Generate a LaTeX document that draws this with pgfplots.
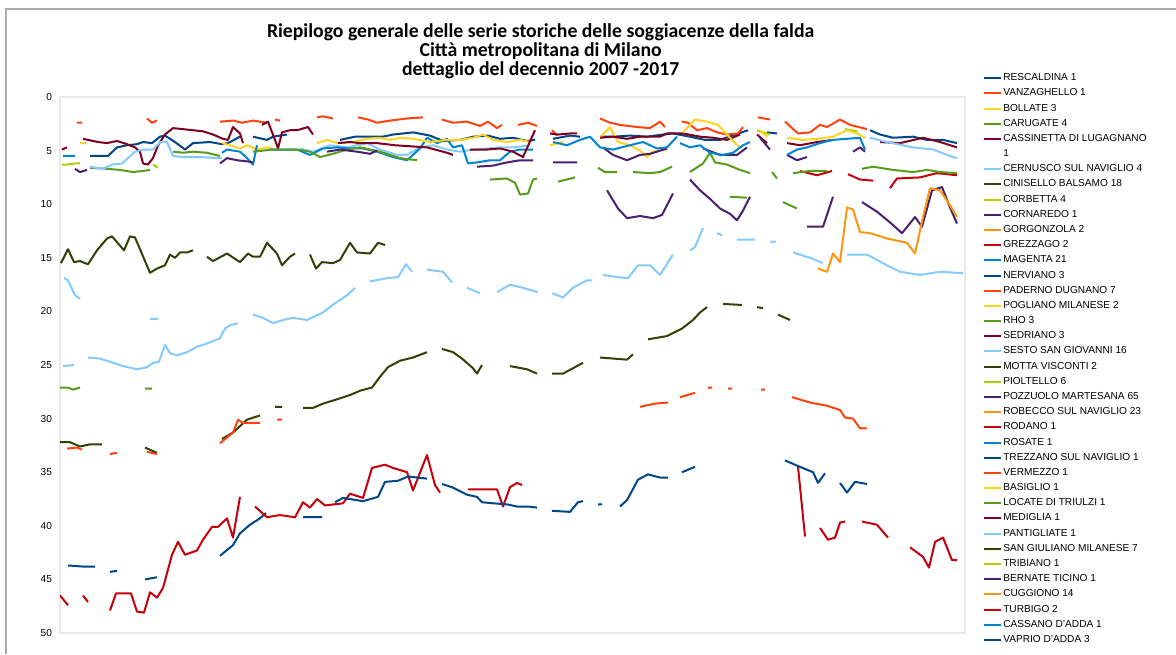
\documentclass[border=0pt]{standalone}
\usepackage{fontspec}
\setmainfont{Liberation Sans}
\newfontfamily\titlefont{Carlito}
\usepackage{pgfplots}
\pgfplotsset{compat=1.18}
\definecolor{cDB}{HTML}{004586}
\definecolor{cOR}{HTML}{FF420E}
\definecolor{cYE}{HTML}{FFD320}
\definecolor{cGR}{HTML}{579D1C}
\definecolor{cMA}{HTML}{7E0021}
\definecolor{cLB}{HTML}{83CAFF}
\definecolor{cOL}{HTML}{314004}
\definecolor{cYG}{HTML}{AECF00}
\definecolor{cIN}{HTML}{4B1F6F}
\definecolor{cOG}{HTML}{FF950E}
\definecolor{cRE}{HTML}{C5000B}
\definecolor{cMB}{HTML}{0084D1}
\begin{document}
\begin{tikzpicture}
\useasboundingbox (0,0) rectangle (882pt,-490.5pt);
\draw[gray!65, line width=1.1pt] (4.5pt,-490.5pt) -- (4.5pt,-6.75pt) -- (882pt,-6.75pt);
\node[align=center, font=\titlefont\bfseries\fontsize{14.8}{14.1}\selectfont] at (405.5pt,-38.3pt)
 {Riepilogo generale delle serie storiche delle soggiacenze della falda\\Città metropolitana di Milano\\dettaglio del decennio 2007 -2017};
\begin{axis}[
  at={(45pt,-72.75pt)}, anchor=north west,
  scale only axis, width=678.75pt, height=402pt,
  xmin=60, xmax=965, ymin=0, ymax=50, y dir=reverse,
  ytick={0,5,...,50}, xtick=\empty,
  axis line style={draw=gray!18, line width=0.8pt},
  major tick length=0pt,
  yticklabel style={font=\fontsize{7.6}{9}\selectfont, xshift=-2.5pt},
  /pgf/number format/assume math mode=true,
  unbounded coords=jump,
  every axis plot/.append style={line width=1.5pt, line join=round, mark=none},
  legend image code/.code={\draw[#1] (0pt,0pt) -- (13pt,0pt);},
  legend cell align=left,
  legend style={at={(1.02,1.045)}, anchor=north west, draw=none, fill=none,
    font=\fontsize{7.6}{9}\selectfont, inner sep=0pt, outer sep=0pt,
    row sep=3.38pt, nodes={inner sep=0.6pt}},
]
% 1 RESCALDINA
\addplot[cDB] coordinates {(90,5.5)(108,5.5)(117,4.7)(127,4.5)(137,4.4)(143,4.2)(152,4.3)(160,3.7)(165,3.6)(175,4.2)(185,4.9)(193,4.3)(210,4.2)(222,4.4)(228,4.3)(240,3.7)(nan,nan)(253,3.7)(267,4.0)(273,3.7)(287,3.5)(nan,nan)(870,3.1)(880,3.5)(893,3.8)(913,3.7)(927,4.0)(943,4.0)(957,4.3)};
\addlegendentry{RESCALDINA 1}
% 2 VANZAGHELLO
\addplot[cOR] coordinates {(77,2.4)(82,2.4)(nan,nan)(147,2.0)(152,2.4)(157,2.2)(nan,nan)(220,2.3)(233,2.2)(242,2.4)(253,2.2)(267,2.4)(nan,nan)(275,2.1)(280,2.2)(nan,nan)(317,1.9)(323,1.8)(333,2.0)(nan,nan)(358,1.9)(368,2.1)(377,2.4)(390,2.2)(407,2.0)(423,1.9)(nan,nan)(442,2.1)(453,2.4)(467,2.3)(480,2.7)(488,2.3)(497,2.9)(502,2.6)(nan,nan)(518,2.6)(528,2.4)(537,2.7)};
\addlegendentry{VANZAGHELLO 1}
% 3 BOLLATE
\addplot[cYE] coordinates {(80,4.3)(86,4.3)(nan,nan)(222,4.3)(230,4.5)(240,4.8)(247,4.5)(257,4.9)(267,4.7)(273,4.8)};
\addlegendentry{BOLLATE 3}
% 4 CARUGATE
\addplot[cGR] coordinates {(90,6.6)(107,6.7)(120,6.8)(133,7.0)(143,6.9)(150,6.8)(nan,nan)(730,9.3)(747,9.4)(nan,nan)(772,7.0)(777,7.6)(nan,nan)(783,9.8)(797,10.4)};
\addlegendentry{CARUGATE 4}
% 5 CASSINETTA
\addplot[cMA] coordinates {(62,4.9)(67,4.7)(nan,nan)(83,3.9)(98,4.2)(107,4.3)(117,4.1)(127,4.4)(135,4.7)(140,5.1)(143,6.2)(148,6.3)(153,5.7)(158,4.5)(165,3.5)(173,2.9)(183,3.0)(193,3.1)(203,3.2)(213,3.5)(223,3.9)(228,4.0)(233,2.8)(240,3.4)(243,4.3)(nan,nan)(262,2.6)(268,2.3)(275,4.0)(278,4.8)(282,3.3)(290,3.1)(297,3.1)(308,2.8)(313,3.5)};
\addlegendentry{CASSINETTA DI LUGAGNANO}
\addlegendimage{empty legend}
\addlegendentry{1}
% 6 CERNUSCO
\addplot[cLB] coordinates {(90,6.5)(103,6.7)(112,6.3)(122,6.2)(128,5.7)(135,5.1)(143,4.9)(153,4.9)(160,4.2)(167,4.2)(173,5.5)(183,5.6)(200,5.6)(217,5.7)(222,5.7)(nan,nan)(300,4.8)(313,5.1)(330,4.5)(347,4.7)(367,4.3)(380,4.9)(397,5.4)(407,5.4)(420,4.7)(433,4.5)(447,4.9)(460,5.1)(473,4.9)(487,4.8)(500,4.7)(513,4.7)(530,4.5)};
\addlegendentry{CERNUSCO SUL NAVIGLIO 4}
% 7 CINISELLO
\addplot[cOL] coordinates {(61,15.5)(68,14.2)(74,15.4)(80,15.3)(88,15.6)(97,14.3)(107,13.2)(112,13.0)(124,14.3)(130,13.0)(135,13.1)(150,16.4)(157,16.0)(165,15.7)(170,14.7)(175,15.0)(180,14.5)(187,14.5)(193,14.3)(nan,nan)(207,14.9)(213,15.3)(227,14.6)(240,15.4)(248,14.6)(253,14.9)(260,14.9)(267,13.6)(277,14.6)(282,15.7)(290,14.9)(295,14.6)(nan,nan)(310,14.7)(316,16.0)(322,15.4)(333,15.5)(340,15.2)(350,13.6)(357,14.5)(370,14.6)(378,13.6)(385,13.8)};
\addlegendentry{CINISELLO BALSAMO 18}
% 8 CORBETTA
\addplot[cYG] coordinates {(62,6.3)(67,6.3)(75,6.2)(80,6.2)};
\addlegendentry{CORBETTA 4}
% 9 CORNAREDO
\addplot[cIN] coordinates {(607,8.7)(618,10.4)(627,11.3)(640,11.1)(653,11.3)(662,11.0)(673,9.0)(nan,nan)(690,7.7)(700,8.7)(710,9.5)(720,10.4)(730,10.9)(737,11.5)(743,10.6)(750,9.3)};
\addlegendentry{CORNAREDO 1}
% 10 GORGONZOLA
\addlegendimage{cOG}
\addlegendentry{GORGONZOLA 2}
% 11 GREZZAGO
\addplot[cRE] coordinates {(800,6.9)(817,7.3)(832,6.9)(nan,nan)(848,7.2)(860,7.7)(873,7.8)(nan,nan)(890,8.5)(897,7.6)(920,7.5)(937,7.1)(957,7.3)};
\addlegendentry{GREZZAGO 2}
% 12 MAGENTA
\addplot[cMB] coordinates {(63,5.5)(75,5.5)(nan,nan)(222,5.2)(227,4.9)(240,5.1)(247,5.7)(253,6.3)(257,4.5)(nan,nan)(270,4.9)(278,4.9)(297,4.9)(310,5.4)(323,4.8)(337,4.7)(350,4.8)(363,4.8)(377,5.1)(393,5.6)(407,5.9)(420,4.8)(427,3.8)(437,4.3)(447,3.9)(453,4.7)(462,4.5)(468,6.2)(477,6.1)(490,5.9)(500,5.9)(510,5.1)(520,4.9)(533,4.9)};
\addlegendentry{MAGENTA 21}
% 13 NERVIANO
\addplot[cDB] coordinates {(340,4.0)(355,3.7)(370,3.7)(383,3.7)(393,3.5)(413,3.3)(430,3.6)(443,4.1)(460,4.0)(473,3.7)(488,3.6)(500,3.9)(513,3.8)(527,4.1)(535,4.0)(nan,nan)(553,3.9)(570,3.6)(580,3.7)(nan,nan)(600,3.7)(613,3.7)(630,3.6)(647,3.7)(663,3.5)(673,3.4)(690,3.7)(705,4.0)(720,4.0)(735,3.5)(748,3.1)(nan,nan)(767,3.3)(777,3.4)};
\addlegendentry{NERVIANO 3}
% 14 PADERNO
\addplot[cOR] coordinates {(552,3.1)(557,3.6)(nan,nan)(600,2.0)(610,2.4)(620,2.6)(637,2.8)(650,2.9)(660,2.3)(665,2.8)(nan,nan)(682,2.3)(688,2.4)(697,3.1)(707,2.9)(717,3.3)(727,3.5)(738,3.4)(743,2.8)(nan,nan)(758,1.9)(770,2.1)(nan,nan)(785,2.3)(798,3.4)(810,3.3)(820,2.6)(827,2.8)(840,2.1)(850,2.6)(863,2.9)(867,3.0)};
\addlegendentry{PADERNO DUGNANO 7}
% 15 POGLIANO
\addplot[cYE] coordinates {(317,4.3)(327,4.0)(337,4.3)(353,4.2)(367,3.9)(380,3.8)(390,4.0)(400,3.8)(413,3.9)(430,4.2)(447,4.0)(460,4.0)(473,3.8)(483,3.5)(493,4.0)(507,4.2)(520,4.0)(530,4.2)(nan,nan)(550,4.5)(563,4.2)(nan,nan)(600,3.8)(610,2.8)(618,4.2)(630,4.5)(640,5.0)(647,5.6)(653,5.1)(667,4.9)};
\addlegendentry{POGLIANO MILANESE 2}
% 16 RHO
\addplot[cGR] coordinates {(173,5.1)(183,5.2)(193,5.1)(207,5.2)(220,5.5)(nan,nan)(253,5.1)(273,4.9)(283,4.9)(297,4.9)(310,5.1)(320,5.6)(333,5.3)(347,4.9)(360,4.7)(380,5.1)(400,5.7)(417,5.9)};
\addlegendentry{RHO 3}
% 17 SEDRIANO
\addplot[cMA] coordinates {(338,4.3)(350,4.2)(360,4.3)(377,4.3)(395,4.5)(427,4.7)(447,5.2)(453,5.4)(nan,nan)(470,4.9)(487,4.9)(500,4.8)(513,5.1)(523,5.6)(535,3.1)(nan,nan)(550,3.4)(558,3.5)(570,3.4)(577,3.4)(nan,nan)(600,3.8)(613,3.7)(627,3.9)(640,3.7)(660,3.7)(667,3.4)(683,3.4)(700,3.7)(713,3.8)(727,4.0)(740,3.5)(nan,nan)(757,3.5)(767,4.3)};
\addlegendentry{SEDRIANO 3}
% 18 SESTO
\addplot[cLB] coordinates {(63,25.1)(74,25.0)(nan,nan)(88,24.3)(100,24.4)(110,24.7)(123,25.1)(137,25.4)(147,25.2)(153,24.8)(159,24.7)(165,23.1)(170,23.9)(177,24.1)(187,23.8)(197,23.3)(207,23.0)(220,22.5)(225,21.6)(230,21.3)(238,21.1)(nan,nan)(253,20.3)(263,20.6)(273,21.1)(283,20.8)(293,20.6)(307,20.8)(323,20.1)(337,19.1)(347,18.5)(355,17.8)(nan,nan)(370,17.2)(387,16.9)(398,16.8)(406,15.6)(412,16.3)(nan,nan)(427,16.1)(443,16.3)(452,17.3)(nan,nan)(467,17.8)(480,18.3)(nan,nan)(497,18.2)(510,17.5)(523,17.8)(538,18.2)(nan,nan)(552,18.3)(563,18.7)(573,17.8)(587,17.1)(592,17.1)(nan,nan)(603,16.6)(617,16.8)(628,16.9)(638,15.7)(650,15.7)(660,16.6)(673,14.7)(nan,nan)(690,14.3)(695,14.0)(703,12.2)(nan,nan)(717,12.7)(722,12.9)(nan,nan)(737,13.3)(755,13.3)(nan,nan)(770,13.5)(776,13.5)(nan,nan)(793,14.5)(810,15.0)(823,15.5)(nan,nan)(847,14.7)(867,14.7)(887,15.7)(900,16.3)(920,16.6)(940,16.3)(957,16.4)(963,16.4)};
\addlegendentry{SESTO SAN GIOVANNI 16}
% 19 MOTTA VISCONTI
\addplot[cOL] coordinates {(60,32.2)(70,32.2)(80,32.6)(90,32.4)(102,32.4)(nan,nan)(145,32.7)(157,33.2)(nan,nan)(222,31.9)(233,31.3)(247,30.1)(260,29.7)(nan,nan)(275,28.9)(282,28.9)(nan,nan)(303,29.0)(313,29.0)(323,28.6)(337,28.2)(350,27.8)(360,27.4)(372,27.1)(380,26.1)(388,25.2)(400,24.6)(413,24.3)(427,23.8)(nan,nan)(442,23.5)(453,23.8)(462,24.4)(473,25.3)(477,25.8)(482,25.0)(nan,nan)(510,25.1)(527,25.4)(537,25.8)(nan,nan)(552,25.8)(563,25.8)(573,25.3)(583,24.8)(nan,nan)(600,24.3)(627,24.5)(633,24.0)(nan,nan)(648,22.6)(667,22.3)(682,21.6)(693,20.8)(700,20.1)(707,19.6)(nan,nan)(723,19.3)(742,19.4)(nan,nan)(757,19.6)(763,19.7)(nan,nan)(778,20.3)(790,20.8)};
\addlegendentry{MOTTA VISCONTI 2}
% 20 PIOLTELLO
\addplot[cYG] coordinates {(757,3.1)(770,3.5)(nan,nan)(845,3.0)(857,3.2)};
\addlegendentry{PIOLTELLO 6}
% 21 POZZUOLO
\addplot[cIN] coordinates {(75,6.7)(80,7.0)(87,6.8)(nan,nan)(220,6.2)(227,5.7)(237,5.9)(247,6.0)(253,6.1)(nan,nan)(327,5.1)(340,4.9)(357,5.1)(370,5.3)(377,5.0)(nan,nan)(477,6.5)(493,6.4)(507,6.1)(520,5.9)(533,5.9)(nan,nan)(553,6.1)(577,6.1)(nan,nan)(603,4.7)(613,5.4)(627,5.9)(640,5.4)(650,5.3)(667,4.8)(nan,nan)(703,4.8)(720,5.4)(737,5.4)(747,4.7)(nan,nan)(760,3.8)(770,4.9)(nan,nan)(787,5.4)(797,5.9)(807,5.6)(nan,nan)(853,5.1)(860,4.7)(865,5.1)};
\addlegendentry{POZZUOLO MARTESANA 65}
% 22 ROBECCO
\addlegendimage{cOG}
\addlegendentry{ROBECCO SUL NAVIGLIO 23}
% 23 RODANO
\addlegendimage{cRE}
\addlegendentry{RODANO 1}
% 24 ROSATE
\addplot[cMB] coordinates {(553,4.2)(567,4.5)(580,4.0)(590,3.7)(600,4.7)(613,4.9)(630,4.5)(643,4.2)(657,4.8)(667,4.7)(677,3.7)};
\addlegendentry{ROSATE 1}
% 25 TREZZANO
\addplot[cDB] coordinates {(68,43.7)(83,43.8)(95,43.8)(nan,nan)(110,44.3)(117,44.2)(nan,nan)(145,45.0)(157,44.8)(nan,nan)(220,42.8)(233,41.8)(240,40.7)(250,39.9)(260,39.3)(266,38.8)(nan,nan)(303,39.2)(322,39.2)};
\addlegendentry{TREZZANO SUL NAVIGLIO 1}
% 26 VERMEZZO
\addplot[cOR] coordinates {(67,32.8)(77,32.7)(82,32.9)(nan,nan)(110,33.3)(117,33.2)(nan,nan)(147,33.1)(157,33.3)(nan,nan)(220,32.3)(233,31.3)(238,30.1)(243,30.4)(260,30.4)(nan,nan)(277,30.1)(282,30.1)(nan,nan)(640,28.9)(655,28.6)(668,28.5)(nan,nan)(680,28.0)(695,27.6)(nan,nan)(708,27.1)(712,27.1)(nan,nan)(728,27.2)(732,27.2)(nan,nan)(761,27.3)(765,27.3)(nan,nan)(792,28.0)(810,28.5)(827,28.8)(840,29.2)(845,29.9)(853,30.0)(860,30.9)(867,30.9)};
\addlegendentry{VERMEZZO 1}
% 27 BASIGLIO
\addplot[cYE] coordinates {(683,3.3)(695,2.1)(707,2.3)(718,2.6)(727,3.5)(735,4.3)(740,4.7)(nan,nan)(760,3.1)(767,3.7)(nan,nan)(787,3.8)(803,4.0)(817,3.9)(833,3.7)(847,3.1)(857,3.4)(865,3.8)};
\addlegendentry{BASIGLIO 1}
% 28 LOCATE
\addplot[cGR] coordinates {(60,27.1)(68,27.1)(73,27.3)(80,27.1)(nan,nan)(145,27.2)(152,27.2)(nan,nan)(490,7.7)(507,7.6)(515,8.0)(520,9.1)(528,9.0)(533,7.7)(537,7.6)(nan,nan)(558,7.9)(575,7.5)(nan,nan)(598,6.6)(605,7.0)(617,7.0)(nan,nan)(633,7.0)(650,7.1)(660,7.0)(672,6.5)(nan,nan)(690,7.0)(703,6.2)(710,5.2)(715,6.1)(727,6.3)(740,6.8)(750,7.1)(nan,nan)(793,7.1)(810,6.9)(827,6.9)(nan,nan)(862,6.7)(873,6.5)(893,6.8)(913,7.0)(927,6.8)(940,7.0)(957,7.1)};
\addlegendentry{LOCATE DI TRIULZI 1}
% 29 MEDIGLIA
\addplot[cMA] coordinates {(787,4.3)(800,4.5)(817,4.2)(833,4.0)(nan,nan)(880,4.2)(900,4.3)(923,3.8)(940,4.2)(957,4.7)};
\addlegendentry{MEDIGLIA 1}
% 30 PANTIGLIATE
\addplot[cLB] coordinates {(64,16.9)(68,17.1)(75,18.5)(80,18.8)(nan,nan)(150,20.7)(158,20.7)(nan,nan)(870,3.8)(887,4.2)(913,4.7)(933,4.9)(953,5.6)(957,5.7)};
\addlegendentry{PANTIGLIATE 1}
% 31 SAN GIULIANO
\addlegendimage{cOL}
\addlegendentry{SAN GIULIANO MILANESE 7}
% 32 TRIBIANO
\addplot[cYG] coordinates {(153,6.3)(158,6.6)};
\addlegendentry{TRIBIANO 1}
% 33 BERNATE
\addplot[cIN] coordinates {(807,12.1)(823,12.1)(833,9.3)(nan,nan)(862,9.8)(877,10.7)(890,11.7)(902,12.7)(915,11.2)(922,12.1)(932,8.7)(942,8.4)(950,10.3)(957,11.8)};
\addlegendentry{BERNATE TICINO 1}
% 34 CUGGIONO
\addplot[cOG] coordinates {(818,16.0)(827,16.3)(833,14.6)(840,15.4)(847,10.3)(853,10.5)(860,12.6)(870,12.7)(887,13.2)(907,13.6)(915,14.6)(923,11.2)(930,8.5)(940,8.7)(950,10.1)(957,11.2)};
\addlegendentry{CUGGIONO 14}
% 35 TURBIGO
\addplot[cRE] coordinates {(60,46.5)(68,47.4)(nan,nan)(83,46.5)(88,47.1)(nan,nan)(110,47.9)(116,46.3)(125,46.3)(131,46.3)(137,48.0)(144,48.1)(150,46.2)(157,46.7)(163,45.8)(172,42.7)(178,41.5)(185,42.7)(197,42.3)(203,41.3)(212,40.1)(218,40.1)(227,39.3)(233,41.1)(240,37.3)(nan,nan)(255,38.2)(267,39.2)(280,39.0)(295,39.2)(303,37.8)(310,38.3)(317,37.5)(325,38.1)(343,37.9)(350,37.0)(363,37.4)(372,34.6)(385,34.3)(393,34.6)(407,35.0)(413,36.7)(427,33.4)(435,36.2)(440,36.9)(nan,nan)(468,36.6)(497,36.6)(503,38.2)(510,36.4)(517,36.0)(522,36.2)(nan,nan)(798,34.5)(805,41.0)(nan,nan)(820,40.2)(828,41.3)(835,41.1)(840,39.7)(845,39.6)(nan,nan)(862,39.6)(877,39.9)(888,41.1)(nan,nan)(910,42.0)(923,42.9)(929,43.9)(935,41.5)(943,41.1)(952,43.2)(957,43.2)};
\addlegendentry{TURBIGO 2}
% 36 CASSANO
\addplot[cMB] coordinates {(680,4.3)(690,4.7)(700,4.5)(710,5.2)(723,5.4)(733,5.2)(743,4.5)(750,4.2)(nan,nan)(787,5.4)(797,4.9)(807,4.7)(820,4.3)(833,4.0)(847,3.9)(860,3.8)(865,4.9)};
\addlegendentry{CASSANO D'ADDA 1}
% 37 VAPRIO
\addplot[cDB] coordinates {(335,37.8)(343,37.4)(363,37.7)(378,37.3)(385,35.9)(398,35.8)(408,35.4)(427,35.6)(nan,nan)(442,36.1)(452,36.4)(467,37.1)(477,37.3)(482,37.8)(493,37.9)(507,38.0)(517,38.2)(528,38.2)(537,38.3)(nan,nan)(552,38.6)(570,38.7)(578,37.8)(583,37.7)(nan,nan)(598,38.0)(602,38.0)(nan,nan)(620,38.2)(627,37.6)(638,35.7)(648,35.2)(660,35.5)(668,35.5)(nan,nan)(682,35.0)(695,34.5)(nan,nan)(785,33.9)(800,34.5)(813,35.0)(818,36.0)(825,35.1)(nan,nan)(840,36.0)(847,36.9)(855,35.9)(867,36.1)};
\addlegendentry{VAPRIO D'ADDA 3}
\end{axis}
\end{tikzpicture}
\end{document}
